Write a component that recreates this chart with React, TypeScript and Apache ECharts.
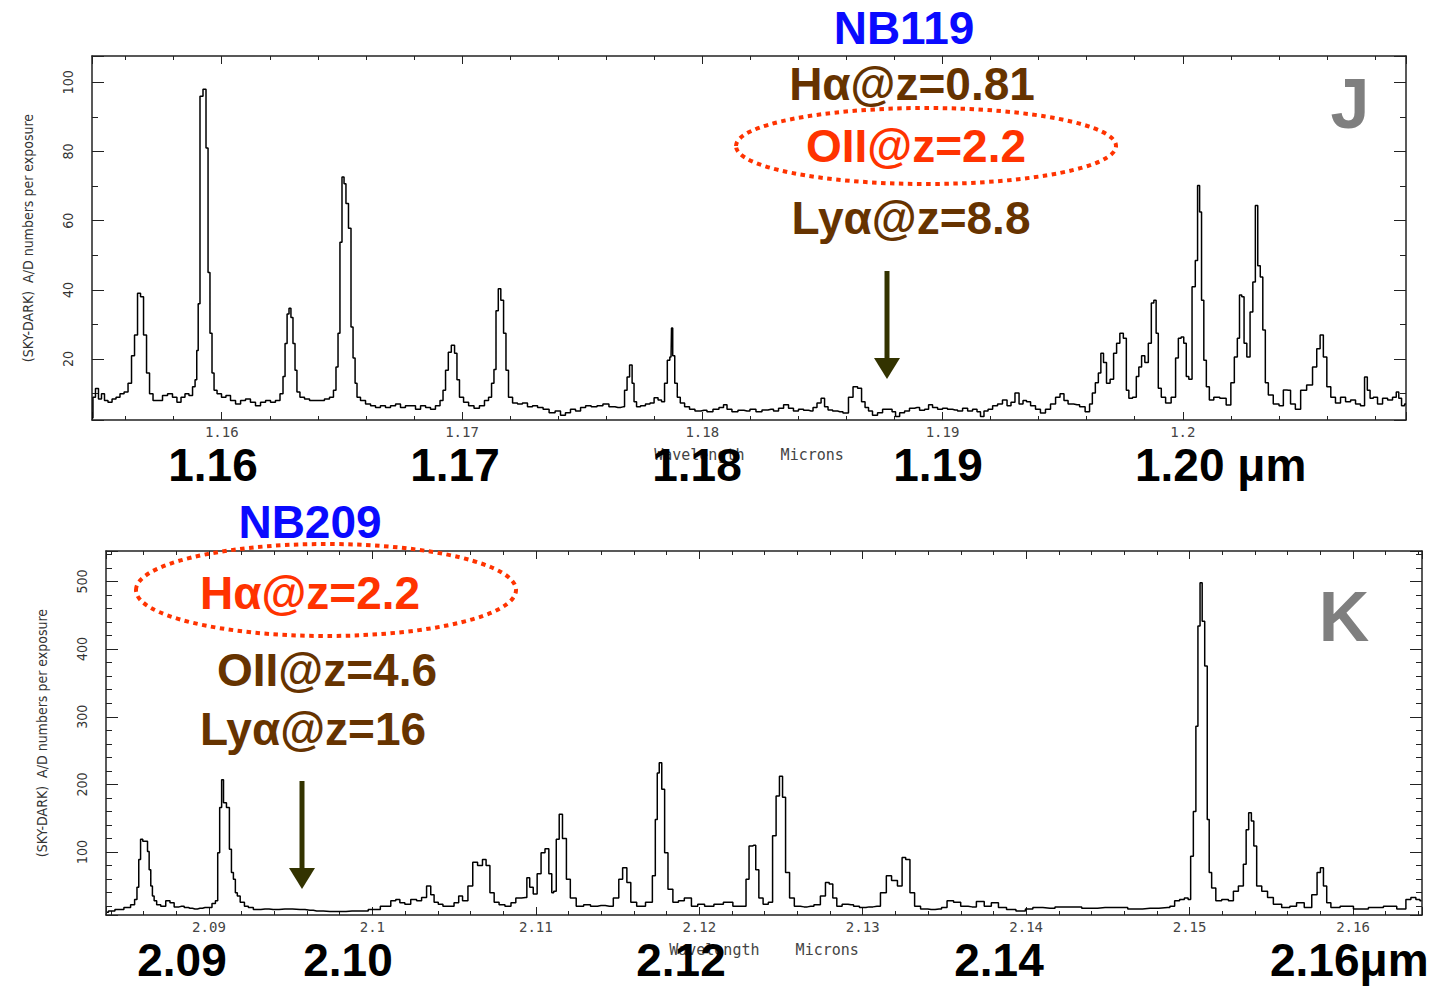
import React, { useEffect, useRef } from 'react';
import * as echarts from 'echarts';

// J-band sky spectrum: [wavelength (micron), A/D counts per exposure]
const J_SPECTRUM: [number, number][] = [
  [1.15460,3],[1.15468,9],[1.15481,11.5],[1.15493,8.5],[1.15506,10],[1.15518,8],[1.15535,7.5],[1.15552,8.5],[1.15568,9],[1.15585,10],[1.15602,10.5],[1.15618,13],[1.15631,21],[1.15643,27],[1.15656,39],[1.15668,38],[1.15681,27],[1.15693,16],[1.15706,10],[1.15722,8],
  [1.15743,8],[1.15764,9.5],[1.15785,10],[1.15805,9],[1.15822,7.5],[1.15839,9],[1.15855,10],[1.15872,9.5],[1.15885,12],[1.15893,14],[1.15899,22.5],[1.15905,36],[1.15914,96],[1.15930,98],[1.15939,81],[1.15947,45],[1.15955,27.5],[1.15964,16],[1.15972,11],[1.15989,10],
  [1.16009,9],[1.16026,9.5],[1.16047,8],[1.16068,7],[1.16089,8],[1.16109,8.5],[1.16130,7.5],[1.16151,6.5],[1.16172,7.5],[1.16193,8],[1.16213,7.5],[1.16234,8],[1.16251,10],[1.16259,15],[1.16268,24.5],[1.16276,33],[1.16284,34.7],[1.16292,32],[1.16301,24.5],[1.16309,16.8],[1.16317,10.5],
  [1.16334,9],[1.16355,8.5],[1.16376,8],[1.16397,8],[1.16417,8],[1.16438,8.5],[1.16459,9],[1.16471,11],[1.16480,17.7],[1.16488,27.5],[1.16496,53.8],[1.16505,72.6],[1.16513,70.7],[1.16521,65],[1.16534,57.8],[1.16542,29.3],[1.16551,20.3],[1.16559,13],[1.16567,9],
  [1.16588,8],[1.16609,7],[1.16630,6.5],[1.16650,6],[1.16671,6.5],[1.16692,6],[1.16713,6.5],[1.16734,7],[1.16754,6],[1.16775,6.5],[1.16796,6.5],[1.16817,5.5],[1.16838,6.5],[1.16859,6],[1.16879,5.5],[1.16900,6.5],
  [1.16917,8],[1.16925,11],[1.16938,16.8],[1.16948,22],[1.16963,24],[1.16975,21.7],[1.16983,14],[1.16996,9],[1.17017,7.5],[1.17038,6.5],[1.17062,5.8],[1.17083,6.5],[1.17104,8],[1.17117,9],[1.17129,13],[1.17137,17],[1.17146,34],[1.17156,40.3],[1.17167,37],[1.17179,27.5],[1.17187,16.8],[1.17200,9],
  [1.17221,7.3],[1.17241,7],[1.17262,7.3],[1.17283,6.2],[1.17304,6.5],[1.17325,6],[1.17350,5.5],[1.17375,4.5],[1.17400,5],[1.17420,3.8],[1.17441,4.5],[1.17462,5.5],[1.17483,5],[1.17504,6],[1.17525,6.5],[1.17550,6.2],[1.17574,6.5],[1.17599,7],[1.17624,6.2],[1.17649,6],
  [1.17670,6.2],[1.17683,11],[1.17691,14.8],[1.17704,18.3],[1.17712,13],[1.17720,7.7],[1.17733,6.2],[1.17753,6.5],[1.17774,7],[1.17791,7.3],[1.17808,8.8],[1.17824,8.2],[1.17837,7.7],[1.17849,13],[1.17860,19.7],[1.17870,20.6],[1.17874,29],[1.17880,21],[1.17891,13],[1.17901,9],[1.17916,7.3],[1.17937,6.2],
  [1.17957,5.5],[1.17982,5],[1.18007,5.2],[1.18032,4.8],[1.18057,5.5],[1.18082,6],[1.18095,6.8],[1.18111,5.5],[1.18136,4.8],[1.18161,5.2],[1.18186,5],[1.18211,5.5],[1.18236,4.8],[1.18261,5.3],[1.18286,5.5],[1.18307,5],[1.18328,5.8],[1.18349,6.8],[1.18369,5.8],[1.18390,5],[1.18411,5.5],[1.18432,5.2],[1.18453,5],
  [1.18469,6],[1.18486,7.3],[1.18503,8.7],[1.18515,6.2],[1.18532,5.3],[1.18553,5],[1.18573,4.8],[1.18598,4.4],[1.18619,9],[1.18636,12],[1.18657,11.6],[1.18669,7.7],[1.18686,6],[1.18698,5],[1.18719,3.8],[1.18740,4.5],[1.18761,5.5],[1.18782,5.5],[1.18798,4.8],[1.18811,3.4],
  [1.18832,4.5],[1.18852,5],[1.18873,5.8],[1.18894,6],[1.18915,5.2],[1.18936,5.5],[1.18948,6.8],[1.18969,6],[1.18990,5.5],[1.19010,5.8],[1.19031,5.5],[1.19052,5.3],[1.19073,5],[1.19094,5.8],[1.19115,5],[1.19135,5.5],[1.19152,4.8],[1.19164,3.4],[1.19181,5],[1.19198,5.5],
  [1.19219,6.5],[1.19239,7],[1.19260,8.2],[1.19277,6.5],[1.19293,7.5],[1.19310,10.2],[1.19327,7],[1.19343,8],[1.19356,7.7],[1.19377,6.5],[1.19397,5.5],[1.19418,4.4],[1.19439,5.5],[1.19460,7],[1.19481,9],[1.19497,10],[1.19514,8],[1.19531,7],[1.19560,6.8],[1.19581,6.2],[1.19606,4.8],
  [1.19618,7],[1.19629,10.2],[1.19643,13.2],[1.19654,16],[1.19664,21.7],[1.19676,19],[1.19689,13],[1.19706,14.2],[1.19718,21.7],[1.19731,24.6],[1.19745,27.5],[1.19760,26],[1.19770,11],[1.19781,8.7],[1.19801,9],[1.19812,15],[1.19822,17.7],[1.19835,21],[1.19849,19],[1.19864,24.6],[1.19874,36.2],[1.19885,37],[1.19893,27.5],[1.19903,11.6],[1.19918,9],[1.19939,7.3],
  [1.19964,9],[1.19976,20.3],[1.19987,26],[1.19999,26.4],[1.20009,24.6],[1.20020,15],[1.20030,14.2],[1.20047,40.9],[1.20057,48.5],[1.20066,70.2],[1.20074,62.5],[1.20082,37],[1.20093,19.7],[1.20103,12],[1.20118,8.2],[1.20140,9],[1.20168,8.7],[1.20193,6.7],
  [1.20207,13.2],[1.20222,20.6],[1.20232,26],[1.20240,38.5],[1.20251,38],[1.20259,24.6],[1.20274,20.6],[1.20286,33.6],[1.20297,42.3],[1.20307,64.4],[1.20317,47],[1.20328,43.7],[1.20338,28.4],[1.20349,13.2],[1.20363,9.6],[1.20390,7],[1.20411,6.5],[1.20426,11.1],[1.20440,11],[1.20457,7],[1.20480,5.5],
  [1.20501,11],[1.20530,12.5],[1.20550,17.7],[1.20565,23],[1.20578,27],[1.20592,20.6],[1.20607,12],[1.20625,9],[1.20646,7.3],[1.20667,9],[1.20688,7.7],[1.20709,8.2],[1.20729,7],[1.20750,6.5],[1.20763,14.8],[1.20773,11],[1.20786,8.7],[1.20800,9],[1.20821,7],[1.20842,8.7],[1.20863,8.2],[1.20883,9],[1.20894,10.5],[1.20904,8.7],[1.20917,6.5],[1.20929,7]
];

// K-band sky spectrum: [wavelength (micron), A/D counts per exposure]
const K_SPECTRUM: [number, number][] = [
  [2.08376,11],[2.08394,13],[2.08455,15],[2.08504,18],[2.08537,22],[2.08553,30],[2.08566,48],[2.08575,89],[2.08588,119],[2.08602,116],[2.08619,116],[2.08629,101],[2.08639,74],[2.08649,50],[2.08659,35],[2.08670,28],[2.08690,22],[2.08720,20],[2.08751,28],[2.08772,25],[2.08802,19],[2.08833,20],[2.08864,18],[2.08884,17],[2.08914,16],[2.08945,17],[2.08976,18],[2.09006,18],
  [2.09031,24],[2.09048,28],[2.09059,99],[2.09072,166],[2.09083,207],[2.09095,173],[2.09119,166],[2.09131,104],[2.09144,70],[2.09155,60],[2.09168,40],[2.09179,35],[2.09203,26],[2.09231,20],[2.09251,18],[2.09292,15],[2.09343,16],[2.09393,15],[2.09465,16],[2.09557,15],[2.09618,14],[2.09659,13],[2.09740,12],[2.09802,12],[2.09875,13],[2.09944,13],
  [2.10005,15],[2.10092,20],[2.10133,28],[2.10153,30],[2.10183,25],[2.10214,23],[2.10255,30],[2.10286,28],[2.10316,33],[2.10347,50],[2.10367,37],[2.10388,26],[2.10418,23],[2.10445,20],[2.10479,20],[2.10520,25],[2.10536,35],[2.10567,28],[2.10602,50],[2.10626,85],[2.10661,80],[2.10686,89],[2.10705,80],[2.10733,40],[2.10757,26],[2.10793,22],[2.10829,20],[2.10867,25],[2.10888,32],[2.10937,33],[2.10953,62],[2.10972,48],[2.10996,38],[2.11020,68],
  [2.11044,99],[2.11068,105],[2.11091,68],[2.11104,40],[2.11115,42],[2.11135,119],[2.11151,156],[2.11175,120],[2.11199,60],[2.11223,32],[2.11271,20],[2.11314,22],[2.11355,20],[2.11399,21],[2.11450,20],[2.11498,32],[2.11517,60],[2.11545,77],[2.11569,55],[2.11593,26],[2.11641,20],[2.11701,26],[2.11725,65],[2.11737,148],[2.11749,217],[2.11761,232],[2.11780,193],[2.11796,99],[2.11821,45],[2.11856,26],[2.11889,28],[2.11928,32],[2.11976,20],[2.12005,23],
  [2.12060,20],[2.12119,23],[2.12176,26],[2.12235,20],[2.12279,20],[2.12293,60],[2.12316,109],[2.12335,110],[2.12356,74],[2.12373,32],[2.12408,23],[2.12437,26],[2.12460,124],[2.12480,183],[2.12501,212],[2.12518,181],[2.12538,70],[2.12567,32],[2.12596,20],[2.12641,19],[2.12682,20],[2.12721,22],[2.12761,35],[2.12783,55],[2.12807,53],[2.12827,32],[2.12856,20],[2.12892,23],[2.12928,22],[2.12960,20],[2.13000,18],
  [2.13039,19],[2.13087,20],[2.13130,40],[2.13159,65],[2.13194,58],[2.13231,50],[2.13251,92],[2.13275,89],[2.13303,40],[2.13332,20],[2.13376,16],[2.13419,15],[2.13467,16],[2.13498,18],[2.13534,28],[2.13578,26],[2.13621,20],[2.13669,19],[2.13722,27],[2.13765,20],[2.13809,25],[2.13852,18],[2.13908,15],[2.13967,13],[2.14024,16],
  [2.14058,18],[2.14146,17],[2.14207,19],[2.14289,19],[2.14391,17],[2.14483,18],[2.14577,18],[2.14666,16],[2.14758,17],[2.14866,18],[2.14893,20],[2.14924,28],[2.14954,30],[2.14982,32],[2.15000,30],[2.15013,94],[2.15033,160],[2.15044,286],[2.15058,434],[2.15070,498],[2.15084,441],[2.15101,375],[2.15115,148],[2.15125,70],[2.15145,47],[2.15176,28],
  [2.15217,30],[2.15258,28],[2.15278,42],[2.15319,50],[2.15339,82],[2.15353,133],[2.15370,158],[2.15386,146],[2.15400,109],[2.15421,50],[2.15462,42],[2.15492,33],[2.15533,23],[2.15594,18],[2.15633,20],[2.15676,25],[2.15727,18],[2.15768,37],[2.15792,70],[2.15809,77],[2.15829,50],[2.15849,25],[2.15880,18],[2.15962,20],
  [2.16043,16],[2.16145,18],[2.16227,20],[2.16308,16],[2.16339,30],[2.16369,33],[2.16400,30],[2.16419,28]
];

const J_WAVE_RANGE = [1.1546, 1.20929];
const J_COUNT_RANGE = [2.4, 107.6];
const K_WAVE_RANGE = [2.0837, 2.16422];
const K_COUNT_RANGE = [7, 545];
const J_COUNT_LABEL_STEP = 20;
const K_COUNT_LABEL_STEP = 100;

const J_BIG_LABELS = ['1.16', '1.17', '1.18', '1.19'];
const J_BIG_LAST = '1.20 μm';
const K_BIG_LABELS = ['2.09', '2.10', '2.12', '2.14'];
const K_BIG_LAST = '2.16μm';

const J_FILTER = { name: 'NB119', lines: ['Hα@z=0.81', 'OII@z=2.2', 'Lyα@z=8.8'] };
const K_FILTER = { name: 'NB209', lines: ['Hα@z=2.2', 'OII@z=4.6', 'Lyα@z=16'] };

const Y_NAME = '(SKY-DARK)  A/D numbers per exposure';
const X_NAME = 'Wavelength    Microns';

const NARROW = '"Liberation Sans Narrow", "DejaVu Sans Condensed", "Liberation Sans", sans-serif';
const MONO = '"DejaVu Sans Mono", "Liberation Mono", monospace';
const BOLD = '"Liberation Sans", Arial, Helvetica, sans-serif';

const AXIS_COLOR = '#222';
const BROWN = '#663300';
const RED = '#ff3300';
const BLUE = '#0a0aff';
const GRAY = '#7f7f7f';
const ARROW = '#333300';

function xLabel(v: number) {
  const r = Math.round(v * 100);
  return Math.abs(v * 100 - r) < 1e-6 ? String(r / 100) : '';
}

function yLabelFor(step: number) {
  return (v: number) => {
    const r = Math.round(v / step);
    return Math.abs(v / step - r) < 1e-6 ? String(r * step) : '';
  };
}

function xAxes(gridIndex: number, range: number[], splitNumber: number) {
  const common = {
    type: 'value',
    gridIndex,
    min: range[0],
    max: range[1],
    splitNumber,
    splitLine: { show: false },
    axisLine: { show: true, onZero: false, lineStyle: { color: AXIS_COLOR, width: 1.5 } },
    axisTick: { show: true, inside: true, length: 8, lineStyle: { color: AXIS_COLOR, width: 1 } },
    minorTick: { show: true, splitNumber: 5, length: 4, lineStyle: { color: AXIS_COLOR, width: 1 } },
  };
  return [
    {
      ...common,
      position: 'bottom',
      axisLabel: { show: true, margin: 5, color: '#444', fontFamily: MONO, fontSize: 14, formatter: xLabel },
      name: X_NAME,
      nameLocation: 'middle',
      nameGap: 27,
      nameTextStyle: { color: '#444', fontFamily: MONO, fontSize: 15 },
    },
    { ...common, position: 'top', axisLabel: { show: false } },
  ];
}

function yAxes(gridIndex: number, range: number[], step: number, minorSplit: number) {
  const common = {
    type: 'value',
    gridIndex,
    min: range[0],
    max: range[1],
    splitNumber: 5,
    splitLine: { show: false },
    axisLine: { show: true, onZero: false, lineStyle: { color: AXIS_COLOR, width: 1.5 } },
    axisTick: { show: true, inside: true, length: 12, lineStyle: { color: AXIS_COLOR, width: 1 } },
    minorTick: { show: true, splitNumber: minorSplit, length: 6, lineStyle: { color: AXIS_COLOR, width: 1 } },
  };
  return [
    {
      ...common,
      position: 'left',
      axisLabel: { show: true, rotate: 90, margin: 17, color: '#333', fontFamily: NARROW, fontSize: 14, formatter: yLabelFor(step) },
      name: Y_NAME,
      nameLocation: 'middle',
      nameRotate: 90,
      nameGap: 57,
      nameTextStyle: { color: '#333', fontFamily: NARROW, fontSize: 14 },
    },
    { ...common, position: 'right', axisLabel: { show: false } },
  ];
}

function text(x: number, y: number, s: string, color: string, size: number, align = 'center') {
  return {
    type: 'text',
    x,
    y,
    z: 100,
    silent: true,
    style: {
      text: s,
      fill: color,
      fontSize: size,
      fontWeight: 'bold',
      fontFamily: BOLD,
      lineHeight: Math.round(size * 0.85),
      align,
      verticalAlign: 'middle',
    },
  };
}

function ellipse(cx: number, cy: number, rx: number, ry: number) {
  return {
    type: 'ellipse',
    z: 99,
    silent: true,
    shape: { cx, cy, rx, ry },
    style: { fill: 'none', stroke: RED, lineWidth: 4, lineDash: [4.5, 4.5] },
  };
}

function arrow(x: number, y1: number, y2: number) {
  return [
    {
      type: 'line',
      z: 98,
      silent: true,
      shape: { x1: x, y1, x2: x, y2: y2 - 16 },
      style: { stroke: ARROW, lineWidth: 5 },
    },
    {
      type: 'polygon',
      z: 98,
      silent: true,
      shape: { points: [[x - 13, y2 - 21], [x + 13, y2 - 21], [x, y2]] },
      style: { fill: ARROW },
    },
  ];
}

export default function App() {
  const ref = useRef<HTMLDivElement>(null);

  useEffect(() => {
    if (!ref.current) return;
    const chart = echarts.init(ref.current, undefined, { renderer: 'svg' });

    const jBigX = [213, 455, 697, 938];
    const kBigX = [182, 348, 681, 999];

    const graphic: any[] = [
      text(904, 28, J_FILTER.name, BLUE, 46),
      text(912, 84, J_FILTER.lines[0], BROWN, 46),
      text(916, 146, J_FILTER.lines[1], RED, 46),
      text(911, 218, J_FILTER.lines[2], BROWN, 46),
      ellipse(926, 146, 190, 38),
      ...arrow(887, 271, 379),
      text(1350, 104, 'J', GRAY, 70),
      text(310, 522, K_FILTER.name, BLUE, 46),
      text(310, 593, K_FILTER.lines[0], RED, 46),
      text(327, 670, K_FILTER.lines[1], BROWN, 46),
      text(313, 729, K_FILTER.lines[2], BROWN, 46),
      ellipse(326, 590, 190, 46),
      ...arrow(302, 781, 889),
      text(1344, 617, 'K', GRAY, 70),
      ...J_BIG_LABELS.map((s, i) => text(jBigX[i], 465, s, '#000', 46)),
      text(1135, 465, J_BIG_LAST, '#000', 46, 'left'),
      ...K_BIG_LABELS.map((s, i) => text(kBigX[i], 960, s, '#000', 46)),
      text(1270, 960, K_BIG_LAST, '#000', 46, 'left'),
    ];

    chart.setOption({
      animation: false,
      backgroundColor: '#ffffff',
      grid: [
        { left: 92, right: 29, top: 56, height: 364, containLabel: false },
        { left: 106, right: 13, top: 551, height: 364, containLabel: false },
      ],
      xAxis: [...xAxes(0, J_WAVE_RANGE, 5), ...xAxes(1, K_WAVE_RANGE, 8)],
      yAxis: [
        ...yAxes(0, J_COUNT_RANGE, J_COUNT_LABEL_STEP, 2),
        ...yAxes(1, K_COUNT_RANGE, K_COUNT_LABEL_STEP, 5),
      ],
      series: [
        {
          type: 'line',
          name: 'J sky',
          xAxisIndex: 0,
          yAxisIndex: 0,
          data: J_SPECTRUM,
          step: 'middle',
          symbol: 'none',
          showSymbol: false,
          silent: true,
          clip: true,
          lineStyle: { color: '#000', width: 1.5 },
        },
        {
          type: 'line',
          name: 'K sky',
          xAxisIndex: 2,
          yAxisIndex: 2,
          data: K_SPECTRUM,
          step: 'middle',
          symbol: 'none',
          showSymbol: false,
          silent: true,
          clip: true,
          lineStyle: { color: '#000', width: 1.5 },
        },
      ],
      graphic,
    });

    return () => chart.dispose();
  }, []);

  return (
    <div
      ref={ref}
      style={{ position: 'absolute', left: 0, top: 0, width: 1435, height: 987, background: '#fff' }}
    />
  );
}
